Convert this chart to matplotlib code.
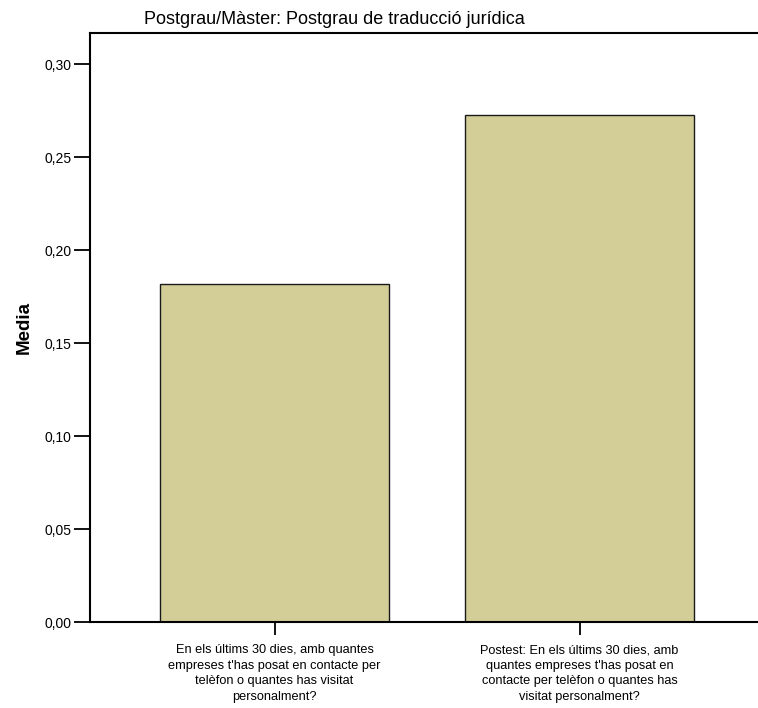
import matplotlib
matplotlib.use("Agg")
import matplotlib.pyplot as plt
from matplotlib.ticker import FixedLocator

plt.rcParams['font.family'] = ['Liberation Sans', 'DejaVu Sans']

title = "Postgrau/Màster: Postgrau de traducció jurídica"
categories = [
    "En els últims 30 dies, amb quantes\nempreses t'has posat en contacte per\ntelèfon o quantes has visitat\npersonalment?",
    "Postest: En els últims 30 dies, amb\nquantes empreses t'has posat en\ncontacte per telèfon o quantes has\nvisitat personalment?",
]
means = [0.1818, 0.2727]
y_ticks = [0.00, 0.05, 0.10, 0.15, 0.20, 0.25, 0.30]
y_tick_labels = ["0,00", "0,05", "0,10", "0,15", "0,20", "0,25", "0,30"]

W, H = 758, 708
fig = plt.figure(figsize=(W / 100, H / 100), dpi=100)
ax = fig.add_axes([90 / W, 1 - 622 / H, 1 - 90 / W, (622 - 33) / H])

x = list(range(len(categories)))
ax.bar(x, means, width=0.75, color="#D3CE98", edgecolor="#1a1a1a", linewidth=1.0)

ax.set_xlim(-0.605, 1.585)
ax.set_ylim(0, 0.3167)
ax.yaxis.set_major_locator(FixedLocator(y_ticks))
ax.set_yticklabels(y_tick_labels, fontsize=10)
ax.set_xticks(x)
ax.set_xticklabels(categories, fontsize=9.2, linespacing=1.4)
ax.tick_params(axis='y', length=11.5, width=1.3, pad=2)
ax.tick_params(axis='x', length=9, width=1.3, pad=7)

for side in ("left", "top", "bottom"):
    ax.spines[side].set_linewidth(1.5)
ax.spines["right"].set_visible(False)

ax.set_ylabel("Media", fontsize=13.5, fontweight="bold", labelpad=8)
fig.text(334 / W, 1 - 20 / H, title, ha="center", va="center", fontsize=13)

fig.savefig("out.png", dpi=100)
